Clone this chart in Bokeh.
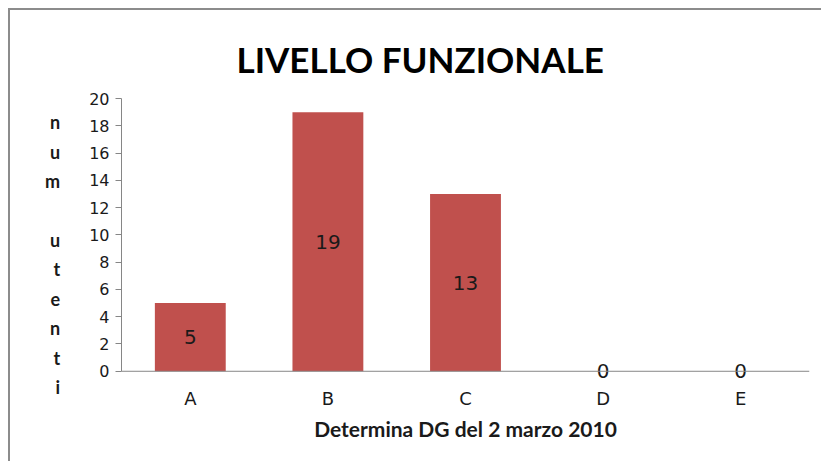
from bokeh.plotting import figure
from bokeh.models import Range1d, FactorRange, ColumnDataSource, Span
from bokeh.core.properties import value
from bokeh.embed import file_html
from bokeh.resources import INLINE

# ---- data ----
categories = ["A", "B", "C", "D", "E"]
counts = [5, 19, 13, 0, 0]
y_ticks = [0, 2, 4, 6, 8, 10, 12, 14, 16, 18, 20]
title_text = "LIVELLO FUNZIONALE"
x_title = "Determina DG del 2 marzo 2010"
y_title_letters = ["n", "u", "m", "", "u", "t", "e", "n", "t", "i"]

src = ColumnDataSource(dict(
    cat=categories,
    val=counts,
    mid=[v / 2 for v in counts],
    lbl=[str(v) for v in counts],
))

p = figure(width=813, height=453,
           x_range=FactorRange(*categories), y_range=Range1d(-0.75, 20),
           output_backend="svg", toolbar_location=None,
           min_border_left=111, min_border_right=14,
           min_border_top=88, min_border_bottom=82)
p.styles = {"margin-top": "8px", "margin-left": "8px",
            "border-top": "2px solid #8c8c8c", "border-left": "2px solid #8c8c8c"}
p.outline_line_color = None
p.xgrid.visible = False
p.ygrid.visible = False

# title
p.title.text = title_text
p.title.align = "left"
p.title.vertical_align = "top"
p.title.offset = 115
p.title.text_font = "Lato"
p.title.text_font_style = "bold"
p.title.text_font_size = "35px"
p.title.text_color = "#000000"
p.title.standoff = 33

p.vbar(x="cat", top="val", width=0.515, fill_color="#C0504D", line_color=None, source=src)
p.text(x="cat", y="mid", text="lbl", text_align="center", text_baseline="middle",
       text_font=value("DejaVu Sans"), text_font_size="20px", text_color="#1a1a1a",
       source=src)

# x axis line at zero
p.add_layout(Span(location=0, dimension="width", line_color="#868686", line_width=1))

# x axis (labels only)
xa = p.xaxis[0]
xa.axis_line_color = None
xa.major_tick_line_color = None
xa.major_tick_out = 0
xa.major_tick_in = 0
xa.minor_tick_line_color = None
xa.major_label_standoff = 6
xa.major_label_text_font = "DejaVu Sans"
xa.major_label_text_font_size = "18px"
xa.major_label_text_color = "#1a1a1a"
xa.axis_label = x_title
xa.axis_label_text_font = "Lato"
xa.axis_label_text_font_style = "bold"
xa.axis_label_text_font_size = "21px"
xa.axis_label_text_color = "#1a1a1a"
xa.axis_label_standoff = 4

# y axis
ya = p.yaxis[0]
ya.ticker = y_ticks
ya.bounds = (0, 20)
ya.axis_line_color = "#868686"
ya.major_tick_line_color = "#868686"
ya.major_tick_out = 6
ya.major_tick_in = 0
ya.minor_tick_line_color = None
ya.major_label_standoff = 6
ya.major_label_text_font = "DejaVu Sans"
ya.major_label_text_font_size = "16px"
ya.major_label_text_color = "#1a1a1a"
ya.axis_label = "\n" + "\n".join(y_title_letters)
ya.axis_label_orientation = "horizontal"
ya.axis_label_text_font = "Lato"
ya.axis_label_text_font_style = "bold"
ya.axis_label_text_font_size = "18px"
ya.axis_label_text_line_height = 1.34
ya.axis_label_text_color = "#1a1a1a"
ya.axis_label_standoff = 26

open("out.html", "w").write(file_html(p, INLINE))
